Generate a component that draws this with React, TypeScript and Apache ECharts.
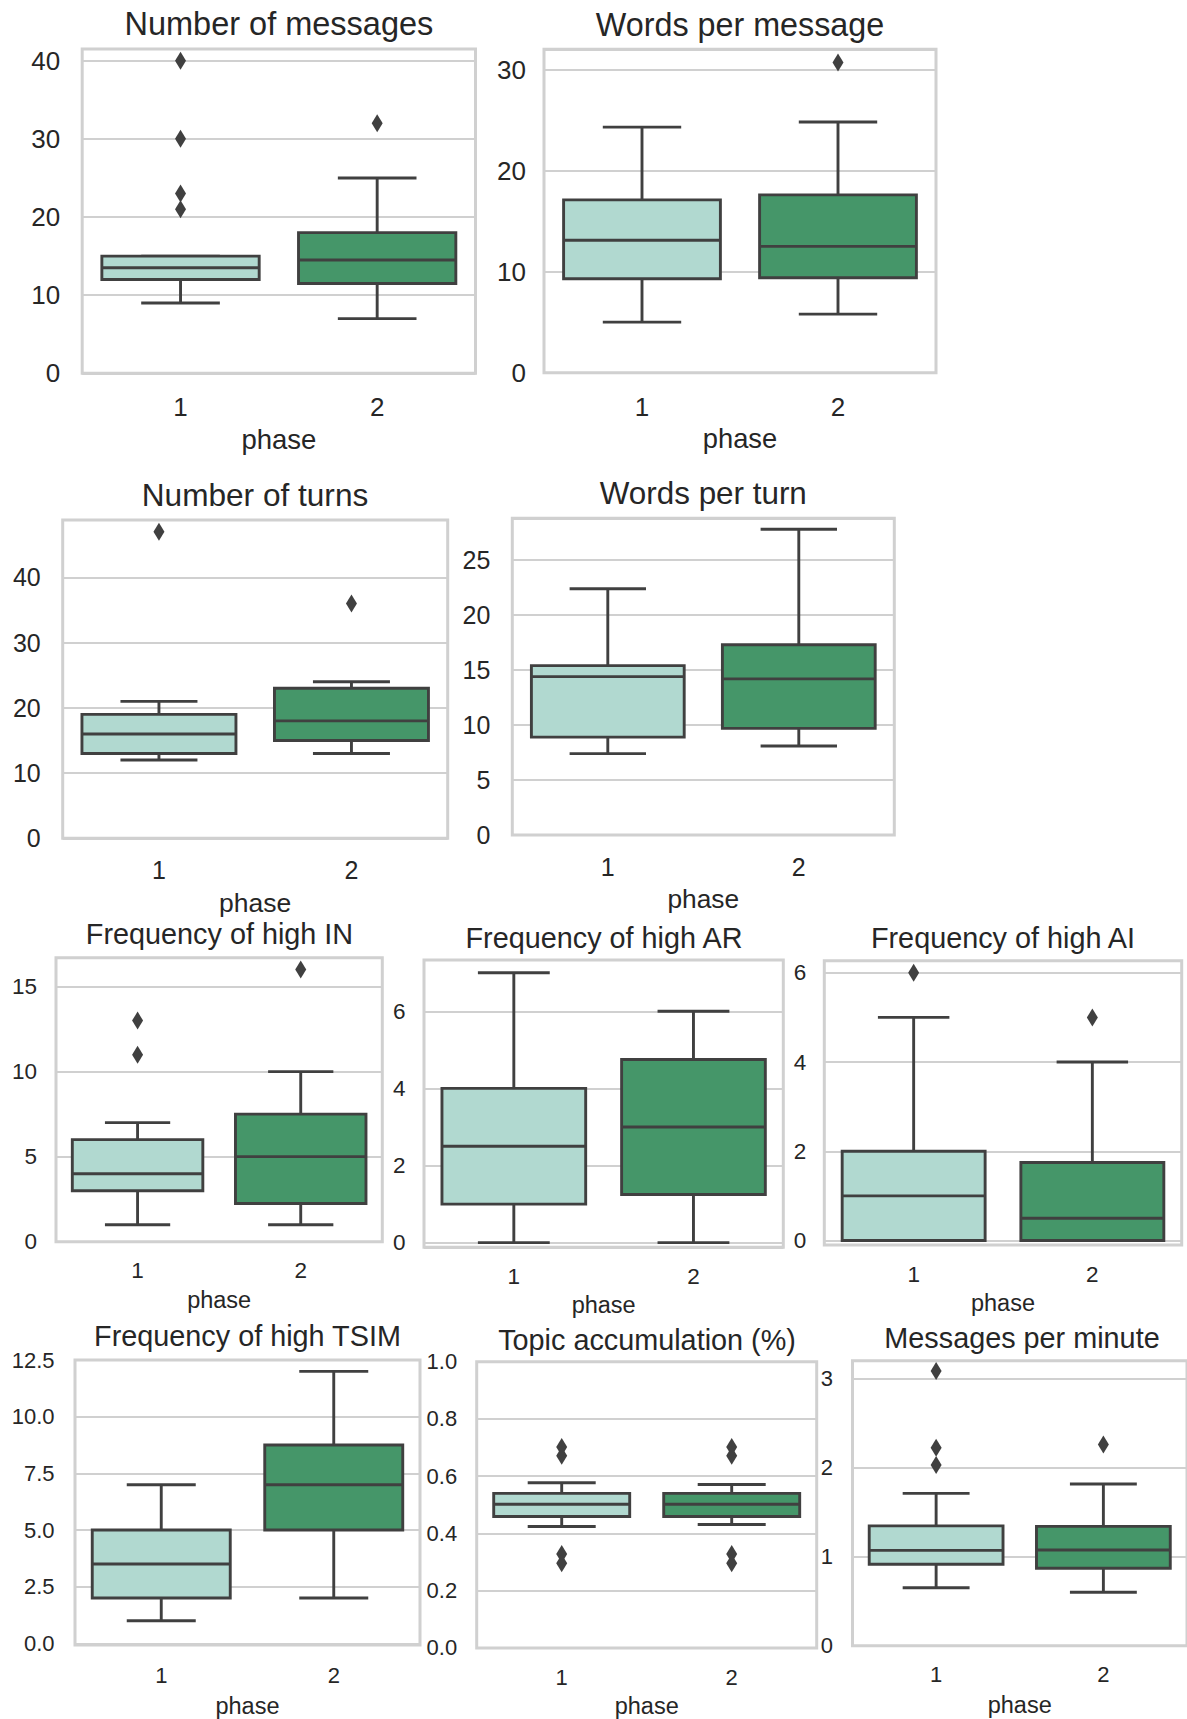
import React, { useEffect, useRef } from "react";
import * as echarts from "echarts";

// ---------- data ----------
const phases = ["1", "2"];
// each row: [lower whisker, Q1, median, Q3, upper whisker] for phase 1 and phase 2
const messagesBox = [[9, 12, 13.5, 15, 15], [7, 11.5, 14.5, 18, 25]];
const messagesOut = [[40, 30, 23, 21], [32]];
const wordsMsgBox = [[5, 9.3, 13.1, 17.1, 24.3], [5.8, 9.4, 12.5, 17.6, 24.8]];
const wordsMsgOut = [[], [30.7]];
const turnsBox = [[12, 13, 16, 19, 21], [13, 15, 18, 23, 24]];
const turnsOut = [[47], [36]];
const wordsTurnBox = [[7.4, 8.9, 14.4, 15.4, 22.4], [8.1, 9.7, 14.2, 17.3, 27.8]];
const wordsTurnOut = [[], []];
const highINBox = [[1, 3, 4, 6, 7], [1, 2.25, 5, 7.5, 10]];
const highINOut = [[13, 11], [16]];
const highARBox = [[0, 1, 2.5, 4, 7], [0, 1.25, 3, 4.75, 6]];
const highAROut = [[], []];
const highAIBox = [[0, 0, 1, 2, 5], [0, 0, 0.5, 1.75, 4]];
const highAIOut = [[6], [5]];
const highTSIMBox = [[1, 2, 3.5, 5, 7], [2, 5, 7, 8.75, 12]];
const highTSIMOut = [[], []];
const topicBox = [[0.424, 0.459, 0.502, 0.54, 0.577], [0.431, 0.459, 0.502, 0.54, 0.571]];
const topicOut = [[0.702, 0.671, 0.328, 0.296], [0.702, 0.671, 0.328, 0.296]];
const mpmBox = [[0.65, 0.915, 1.07, 1.345, 1.71], [0.6, 0.87, 1.075, 1.34, 1.815]];
const mpmOut = [[3.085, 2.223, 2.028], [2.26]];

const titles = [
  "Number of messages",
  "Words per message",
  "Number of turns",
  "Words per turn",
  "Frequency of high IN",
  "Frequency of high AR",
  "Frequency of high AI",
  "Frequency of high TSIM",
  "Topic accumulation (%)",
  "Messages per minute",
];
const boxes = [messagesBox, wordsMsgBox, turnsBox, wordsTurnBox, highINBox, highARBox, highAIBox, highTSIMBox, topicBox, mpmBox];
const outliers = [messagesOut, wordsMsgOut, turnsOut, wordsTurnOut, highINOut, highAROut, highAIOut, highTSIMOut, topicOut, mpmOut];
// axis ranges and tick steps
const yMins = [0, 0, 0, 0, 0, -0.12, -0.1, -0.07, 0, 0];
const yMaxs = [41.5, 32, 48.8, 28.8, 16.7, 7.33, 6.27, 12.5, 1.0, 3.2];
const ySteps = [10, 10, 10, 5, 5, 2, 2, 2.5, 0.2, 1];
const yDecimals = [0, 0, 0, 0, 0, 0, 0, 1, 1, 0];

// ---------- layout / style ----------
const FONT = '"Liberation Sans", Arial, Helvetica, sans-serif';
const TEXT = "#262626";
const EDGE = "#404040";
const FILLS = ["#b1d9d0", "#459669"];
const FRAME = "#d0d0d0";

// [left, top, width, height]
const rects = [
  [82.2, 49, 393.3, 324.3],
  [544, 49.3, 392, 323.4],
  [62.7, 520, 385, 318.3],
  [512.3, 518.3, 382, 316.7],
  [56, 957.7, 326.3, 284],
  [424, 960, 359.3, 287.3],
  [824.3, 960.7, 357.4, 284.3],
  [75, 1360, 345, 285],
  [476.7, 1361.7, 340, 287.3],
  [852.5, 1360.7, 342, 285],
];
const titlePos = [
  [278.9, 23.5], [740, 25], [255, 494.5], [703.3, 493.3], [219.5, 934.2],
  [604, 937.5], [1003, 937.8], [247.5, 1335.8], [647, 1339.7], [1022, 1337.8],
];
const titleFont = [32.5, 32.3, 31.6, 31.4, 28.8, 28.8, 28.8, 28.8, 28.8, 28.8];
const tickFont = [26, 26, 25, 25, 22.5, 22.5, 22.5, 22, 22, 22];
const nameFont = [27.5, 27.3, 26.5, 26.3, 23.5, 23.5, 23.5, 23.5, 23.5, 23.5];
const yLabelMargin = [22, 18, 22, 22, 19, 18.5, 18, 20.5, 19.5, 19.5];
const xLabelMargin = [20.4, 21, 19.2, 19.2, 17, 18.1, 17.7, 19, 18.3, 17.3];
const nameGaps = [51.7, 52.4, 51, 51, 46.6, 45.6, 45.6, 48.6, 46.1, 47.6];

function renderBox(params: any, api: any) {
  const x = api.value(0);
  const lo = api.coord([x, api.value(1)]);
  const q1 = api.coord([x, api.value(2)]);
  const md = api.coord([x, api.value(3)]);
  const q3 = api.coord([x, api.value(4)]);
  const hi = api.coord([x, api.value(5)]);
  const band = api.size([1, 0])[0];
  const bw = band * 0.8;
  const cw = band * 0.4;
  const cx = lo[0];
  const ls = { stroke: EDGE, lineWidth: 2.9 };
  return {
    type: "group",
    children: [
      { type: "line", shape: { x1: cx, y1: lo[1], x2: cx, y2: q1[1] }, style: ls },
      { type: "line", shape: { x1: cx, y1: q3[1], x2: cx, y2: hi[1] }, style: ls },
      { type: "line", shape: { x1: cx - cw / 2, y1: lo[1], x2: cx + cw / 2, y2: lo[1] }, style: ls },
      { type: "line", shape: { x1: cx - cw / 2, y1: hi[1], x2: cx + cw / 2, y2: hi[1] }, style: ls },
      {
        type: "rect",
        shape: { x: cx - bw / 2, y: q3[1], width: bw, height: q1[1] - q3[1] },
        style: { fill: FILLS[x], stroke: EDGE, lineWidth: 2.9 },
      },
      { type: "line", shape: { x1: cx - bw / 2, y1: md[1], x2: cx + bw / 2, y2: md[1] }, style: ls },
    ],
  };
}

export default function App() {
  const ref = useRef<HTMLDivElement>(null);
  useEffect(() => {
    if (!ref.current) return;
    const chart = echarts.init(ref.current, undefined, { renderer: "svg" });
    const grid: any[] = [];
    const xAxis: any[] = [];
    const yAxis: any[] = [];
    const series: any[] = [];
    const graphic: any[] = [];
    titles.forEach((title, i) => {
      const [l, t, w, h] = rects[i];
      grid.push({ left: l, top: t, width: w, height: h, show: true, borderColor: FRAME, borderWidth: 3, backgroundColor: "transparent" });
      xAxis.push({
        gridIndex: i,
        type: "category",
        data: phases,
        axisLine: { show: false },
        axisTick: { show: false },
        splitLine: { show: false },
        axisLabel: { fontSize: tickFont[i], color: TEXT, fontFamily: FONT, margin: xLabelMargin[i] },
        name: "phase",
        nameLocation: "middle",
        nameGap: nameGaps[i],
        nameTextStyle: { fontSize: nameFont[i], color: TEXT, fontFamily: FONT },
      });
      const step = ySteps[i];
      const dec = yDecimals[i];
      yAxis.push({
        gridIndex: i,
        type: "value",
        min: yMins[i],
        max: yMaxs[i],
        minInterval: step,
        maxInterval: step,
        axisLine: { show: false },
        axisTick: { show: false },
        splitLine: { lineStyle: { color: FRAME, width: 2 } },
        axisLabel: {
          fontSize: tickFont[i],
          color: TEXT,
          fontFamily: FONT,
          margin: yLabelMargin[i],
          formatter: (v: number) => {
            const k = v / step;
            return Math.abs(k - Math.round(k)) < 1e-6 ? v.toFixed(dec) : "";
          },
        },
      });
      series.push({
        type: "custom",
        xAxisIndex: i,
        yAxisIndex: i,
        renderItem: renderBox,
        encode: { x: 0, y: [1, 2, 3, 4, 5] },
        data: boxes[i].map((b, k) => [k, ...b]),
        z: 2,
      });
      const pts: number[][] = [];
      outliers[i].forEach((arr, k) => arr.forEach((v) => pts.push([k, v])));
      series.push({
        type: "scatter",
        xAxisIndex: i,
        yAxisIndex: i,
        symbol: "diamond",
        symbolSize: [11, 18],
        itemStyle: { color: EDGE, opacity: 1 },
        data: pts,
        z: 3,
      });
      graphic.push({
        type: "text",
        x: titlePos[i][0],
        y: titlePos[i][1],
        silent: true,
        style: { text: title, fontSize: titleFont[i], fontFamily: FONT, fill: TEXT, align: "center", verticalAlign: "middle" },
      });
    });
    chart.setOption({
      animation: false,
      backgroundColor: "#ffffff",
      grid,
      xAxis,
      yAxis,
      series,
      graphic,
    });
    return () => chart.dispose();
  }, []);
  return <div ref={ref} style={{ position: "absolute", left: 0, top: 0, width: 1187, height: 1719 }} />;
}
